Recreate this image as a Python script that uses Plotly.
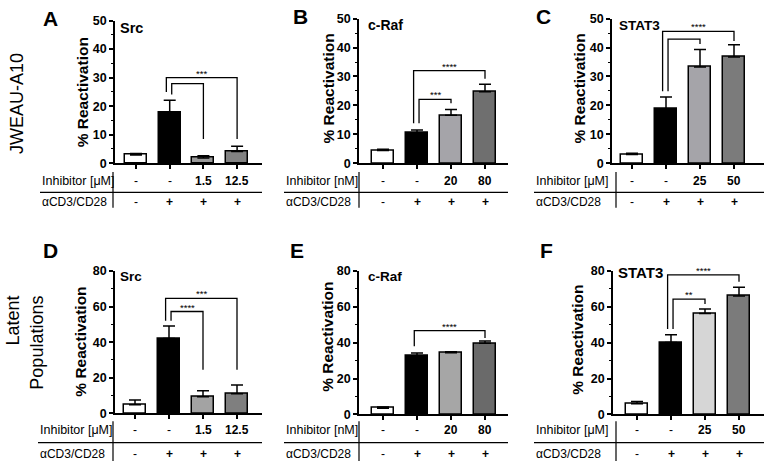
import plotly.graph_objects as go

W, H = 764, 468

# ---------------- data ----------------
stim_row = ['-', '+', '+', '+']

A_target = 'Src'; A_unit = 'μM'; A_doses = ['-', '-', '1.5', '12.5']
A_vals = [2.9, 17.9, 1.8, 4.1]
A_errs = [0.5, 4.2, 0.8, 1.8]
A_brackets = [(1, 3, 30.0, 25.0, 8.5, '***'), (1, 2, 27.9, 24.1, 8.5, '')]

B_target = 'c-Raf'; B_unit = 'nM'; B_doses = ['-', '-', '20', '80']
B_vals = [4.4, 10.5, 16.6, 24.7]
B_errs = [0.4, 1.0, 2.0, 2.6]
B_brackets = [(1, 3, 32.0, 13.8, 29.2, '****'), (1, 2, 22.1, 13.8, 20.7, '***')]

C_target = 'STAT3'; C_unit = 'μM'; C_doses = ['-', '-', '25', '50']
C_vals = [3.0, 18.8, 33.3, 36.7]
C_errs = [0.4, 4.1, 6.0, 4.3]
C_brackets = [(1, 3, 45.6, 24.9, 42.3, '****'), (1, 2, 42.9, 24.9, 41.2, '')]

D_target = 'Src'; D_unit = 'μM'; D_doses = ['-', '-', '1.5', '12.5']
D_vals = [4.9, 42.1, 9.4, 11.1]
D_errs = [2.7, 6.9, 3.3, 4.9]
D_brackets = [(1, 3, 64.6, 52.0, 24.5, '***'), (1, 2, 57.2, 52.0, 24.5, '****')]

E_target = 'c-Raf'; E_unit = 'nM'; E_doses = ['-', '-', '20', '80']
E_vals = [3.4, 32.4, 34.4, 39.6]
E_errs = [0.7, 1.9, 0.5, 1.3]
E_brackets = [(1, 3, 46.7, 38.0, 42.6, '****')]

F_target = 'STAT3'; F_unit = 'μM'; F_doses = ['-', '-', '25', '50']
F_vals = [5.9, 40.1, 56.2, 66.0]
F_errs = [1.3, 4.3, 2.6, 4.8]
F_brackets = [(1, 3, 77.8, 47.6, 74.0, '****'), (1, 2, 64.3, 47.6, 61.6, '**')]

top_ticks = [0, 10, 20, 30, 40, 50]
bottom_ticks = [0, 20, 40, 60, 80]

panels = [
    dict(letter='A', target=A_target, unit=A_unit, doses=A_doses, vals=A_vals, errs=A_errs, br=A_brackets, ticks=top_ticks),
    dict(letter='B', target=B_target, unit=B_unit, doses=B_doses, vals=B_vals, errs=B_errs, br=B_brackets, ticks=top_ticks),
    dict(letter='C', target=C_target, unit=C_unit, doses=C_doses, vals=C_vals, errs=C_errs, br=C_brackets, ticks=top_ticks),
    dict(letter='D', target=D_target, unit=D_unit, doses=D_doses, vals=D_vals, errs=D_errs, br=D_brackets, ticks=bottom_ticks),
    dict(letter='E', target=E_target, unit=E_unit, doses=E_doses, vals=E_vals, errs=E_errs, br=E_brackets, ticks=bottom_ticks),
    dict(letter='F', target=F_target, unit=F_unit, doses=F_doses, vals=F_vals, errs=F_errs, br=F_brackets, ticks=bottom_ticks),
]

# ---------------- geometry / style (pixels) ----------------
TOP_ROWS = (179, 191, 201, 170, 207)
BOT_ROWS = (436, 449, 461, 427, 468)
geoms = [
    dict(x0=115, x1=262, b0=136, sp=33.7, yz=161, yt=14, tx=118, ty=22, ts=14.5, yx=82, yy=88, lx=50, ly=12,
         colors=['white', 'black', '#9a9a9a', '#828282'], tl0=40, vl=113, rows=TOP_ROWS),
    dict(x0=359, x1=508, b0=383, sp=34, yz=161, yt=12, tx=366, ty=19, ts=14, yx=328, yy=84, lx=300, ly=10,
         colors=['white', 'black', '#a5a4a9', '#6f6f6f'], tl0=284, vl=359, rows=TOP_ROWS),
    dict(x0=612, x1=764, b0=632, sp=34, yz=161, yt=12, tx=617, ty=19, ts=13.5, yx=579, yy=84, lx=543, ly=10,
         colors=['white', 'black', '#a5a4a9', '#7b7b7b'], tl0=534, vl=616, rows=TOP_ROWS),
    dict(x0=115, x1=262, b0=135, sp=34, yz=419, yt=272, tx=118, ty=278, ts=13.5, yx=81, yy=345, lx=50, ly=251,
         colors=['white', 'black', '#a3a3a3', '#7f7f7f'], tl0=38, vl=113, rows=BOT_ROWS),
    dict(x0=359, x1=508, b0=383, sp=34, yz=420, yt=272, tx=366, ty=278, ts=13.5, yx=328, yy=340, lx=297, ly=251,
         colors=['white', 'black', '#a6a6a6', '#6a6a6a'], tl0=284, vl=359, rows=BOT_ROWS),
    dict(x0=613, x1=764, b0=637, sp=34, yz=420, yt=272, tx=616, ty=274, ts=15, yx=578, yy=343, lx=546, ly=251,
         colors=['white', 'black', '#d6d6d6', '#7b7b7b'], tl0=534, vl=616, rows=BOT_ROWS),
]

FONT = 'Liberation Sans, Arial, sans-serif'


def px(x):
    return x / W


def py(y):
    return 1 - y / H


fig = go.Figure()
layout = {}
annotations = []
shapes = []

for i, (p, g) in enumerate(zip(panels, geoms)):
    k = i + 1
    sfx = '' if k == 1 else str(k)
    xa, ya = 'x' + sfx, 'y' + sfx
    n = len(p['vals'])
    xs = list(range(n))
    fig.add_trace(go.Bar(
        x=xs, y=p['vals'], width=0.65,
        marker=dict(color=g['colors'], line=dict(color='black', width=1.5)),
        error_y=dict(type='data', symmetric=False, array=p['errs'], arrayminus=[0] * n,
                     color='black', thickness=1.5, width=6),
        xaxis=xa, yaxis=ya, showlegend=False, hoverinfo='skip'))

    lo = (g['x0'] - g['b0']) / g['sp']
    hi = (g['x1'] - g['b0']) / g['sp']
    ymax = p['ticks'][-1]
    layout['xaxis' + sfx] = dict(
        domain=[px(g['x0']), px(g['x1'])], range=[lo, hi], anchor=ya,
        showline=True, linecolor='black', linewidth=1.5, ticks='outside', ticklen=4, tickwidth=1.5,
        tickcolor='black', tickvals=xs, showticklabels=False, showgrid=False, zeroline=False, fixedrange=True)
    layout['yaxis' + sfx] = dict(
        domain=[py(g['yz']), py(g['yt'])], range=[0, ymax], anchor=xa,
        showline=True, linecolor='black', linewidth=1.5, ticks='outside', ticklen=4, tickwidth=1.5,
        tickcolor='black', tickvals=p['ticks'], ticktext=[str(t) for t in p['ticks']],
        tickfont=dict(family=FONT, size=12.5, color='black', weight='bold'),
        minor=dict(ticks='outside', ticklen=2.5, tickwidth=1.2, tickcolor='black',
                   dtick=(p['ticks'][1] - p['ticks'][0]) / 2, showgrid=False),
        showgrid=False, zeroline=False, fixedrange=True)

    # significance brackets
    brs = sorted(p['br'], key=lambda b: -b[2])
    for j, (a, b, top, lend, rend, lab) in enumerate(brs):
        if len(brs) == 1:
            off = -0.08
        else:
            off = -0.1 if j == 0 else 0.06
        xl = a + off
        shapes.append(dict(type='path', xref=xa, yref=ya,
                           path=f'M {xl},{lend} L {xl},{top} L {b},{top} L {b},{rend}',
                           line=dict(color='black', width=1.3)))
        if lab:
            annotations.append(dict(x=(xl + b) / 2, y=top, xref=xa, yref=ya, text=lab, showarrow=False,
                                    yanchor='bottom', yshift=-3,
                                    font=dict(family=FONT, size=9.5, color='black')))

    # panel title, y title, letter
    annotations.append(dict(x=px(g['tx']), y=py(g['ty']), xref='paper', yref='paper', text='<b>%s</b>' % p['target'],
                            showarrow=False, xanchor='left', yanchor='middle',
                            font=dict(family=FONT, size=g['ts'], color='black')))
    annotations.append(dict(x=px(g['yx']), y=py(g['yy']), xref='paper', yref='paper', text='<b>% Reactivation</b>',
                            showarrow=False, textangle=-90, xanchor='center', yanchor='middle',
                            font=dict(family=FONT, size=15.5, color='black')))
    annotations.append(dict(x=px(g['lx']), y=py(g['ly']), xref='paper', yref='paper', text='<b>%s</b>' % p['letter'],
                            showarrow=False, xanchor='center', yanchor='middle',
                            font=dict(family=FONT, size=21, color='black')))

    # treatment table
    r1, rl, r2, v0, v1 = g['rows']
    annotations.append(dict(x=px(g['tl0']), y=py(r1), xref='paper', yref='paper',
                            text='Inhibitor [%s]' % p['unit'], showarrow=False, xanchor='left', yanchor='middle',
                            font=dict(family=FONT, size=12.5, color='black')))
    annotations.append(dict(x=px(g['tl0']), y=py(r2), xref='paper', yref='paper',
                            text='αCD3/CD28', showarrow=False, xanchor='left', yanchor='middle',
                            font=dict(family=FONT, size=12, color='black')))
    for xi in xs:
        d = p['doses'][xi]
        annotations.append(dict(x=xi, y=py(r1), xref=xa, yref='paper',
                                text=d if d == '-' else '<b>%s</b>' % d, showarrow=False,
                                xanchor='center', yanchor='middle',
                                font=dict(family=FONT, size=12, color='black')))
        s = stim_row[xi]
        annotations.append(dict(x=xi, y=py(r2), xref=xa, yref='paper',
                                text=s if s == '-' else '<b>%s</b>' % s, showarrow=False,
                                xanchor='center', yanchor='middle',
                                font=dict(family=FONT, size=12, color='black')))
    shapes.append(dict(type='line', xref='paper', yref='paper', x0=px(g['tl0']), x1=px(g['x1']),
                       y0=py(rl), y1=py(rl), line=dict(color='black', width=1.2)))
    shapes.append(dict(type='line', xref='paper', yref='paper', x0=px(g['vl']), x1=px(g['vl']),
                       y0=py(v0), y1=py(v1), line=dict(color='black', width=1.2)))

# row labels
annotations.append(dict(x=px(17), y=py(100), xref='paper', yref='paper', text='JWEAU-A10', showarrow=False,
                        textangle=-90, xanchor='center', yanchor='middle',
                        font=dict(family=FONT, size=18, color='black')))
annotations.append(dict(x=px(25), y=py(346), xref='paper', yref='paper', text='Latent<br>Populations',
                        showarrow=False, textangle=-90, xanchor='center', yanchor='middle', align='right',
                        font=dict(family=FONT, size=18, color='black')))

fig.update_layout(
    width=W, height=H, margin=dict(l=0, r=0, t=0, b=0),
    paper_bgcolor='white', plot_bgcolor='white', bargap=0,
    annotations=annotations, shapes=shapes, **layout)

fig.write_html('out.html', config={'displayModeBar': False},
               post_script="document.body.style.margin='0';document.body.style.overflow='hidden';")
